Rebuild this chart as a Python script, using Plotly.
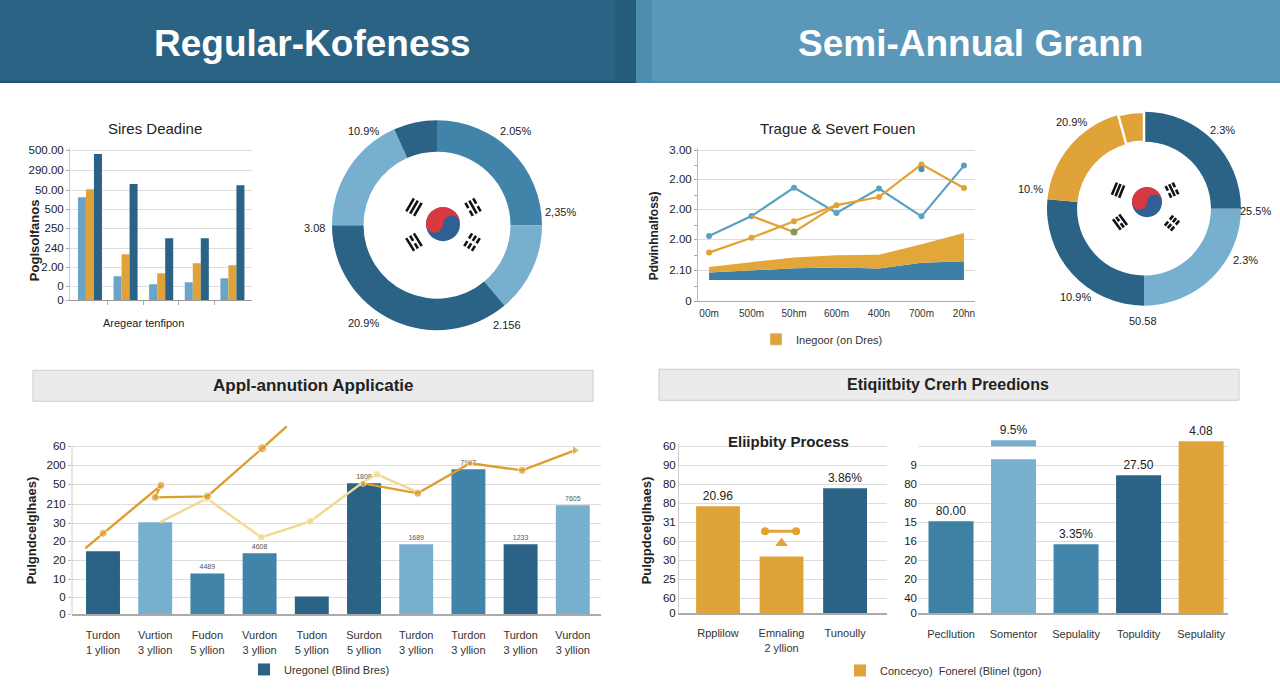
import math
import plotly.graph_objects as go

W, H = 1280, 698
# the photographed page shows a small top offset and slight vertical squeeze; compensate
Y_OFF, Y_SCALE = 4, 0.985

dark = "#2a6385"
mid = "#4184a9"
light = "#77afce"
gold = "#e0a33a"
pale = "#f1d98f"
grid_color = "#dddddd"
text_color = "#222222"

# ---------------- data ----------------
# top-left bars "Sires Deadine"
p1_groups = [0, 1, 2, 3, 4]
p1_light = [103, 24, 16, 18, 22]
p1_gold = [111, 46, 27, 37, 35]
p1_dark = [146, 116, 62, 62, 115]
p1_tickvals = [0, 14, 33, 52, 72, 91, 110, 130, 150]
p1_ticktext = ["0", "0", "2.00", "240", "250", "500", "50.00", "290.00", "500.00"]

# donut 1
d1_values = [90, 50, 130, 66, 24]
d1_colors = [mid, light, dark, light, dark]
d1_labels = ["10.9%", "2.05%", "2,35%", "3.08", "20.9%", "2.156"]

# line chart "Trague & Severt Fouen"
p3_x = [0, 1, 2, 3, 4, 5, 6]
p3_xlabels = ["00m", "500m", "50hm", "600m", "400n", "700m", "20hn"]
p3_blue = [2.16, 2.82, 3.76, 2.92, 3.73, 2.81, 4.49]
p3_gold = [1.61, 2.10, 2.65, 3.18, 3.45, 4.53, 3.75]
p3_gold2_x = [1, 2, 3]
p3_gold2 = [2.82, 2.29, 3.18]
p3_green_x = [2]
p3_green = [2.29]
p3_bdot_x = [5]
p3_bdot = [4.37]
p3_area_base = [0.70, 0.70, 0.70, 0.70, 0.70, 0.70, 0.70]
p3_area_blue = [0.95, 1.02, 1.09, 1.12, 1.08, 1.27, 1.32]
p3_area_gold = [1.13, 1.28, 1.45, 1.52, 1.54, 1.89, 2.26]
p3_tickvals = [0, 1.03, 2.05, 3.05, 4.04, 5.0]
p3_ticktext = ["0", "2.10", "2.00", "2.00", "2.00", "3.00"]

# donut 2
d2_values = [90, 90, 95.6, 69, 15.4]
d2_colors = [dark, light, dark, gold, gold]
d2_labels = ["2.3%", "25.5%", "2.3%", "50.58", "10.9%", "10.%", "20.9%"]

# bottom-left combo "Appl-annution Applicatie"
p5_x = [0, 1, 2, 3, 4, 5, 6, 7, 8, 9]
p5_vals = [63, 92, 41, 61, 18, 131, 70, 145, 70, 109]
p5_colors = [dark, light, mid, mid, dark, dark, light, mid, dark, light]
p5_text = ["", "", "4489", "4608", "", "1808", "1689", "7987", "1233", "7605"]
p5_xlabels = ["Turdon<br>1 yllion", "Vurtion<br>3 yllion", "Fudon<br>5 yllion",
              "Vurdon<br>3 yllion", "Tudon<br>5 yllion", "Surdon<br>5 yllion",
              "Turdon<br>3 yllion", "Turdon<br>3 yllion", "Turdon<br>3 yllion",
              "Vurdon<br>3 yllion"]
p5_tickvals = [0, 17, 35, 54, 73, 91, 110, 130, 149, 168]
p5_ticktext = ["0", "0", "10", "20", "20", "30", "210", "50", "200", "60"]
p5_line1_x = [-0.34, 0, 1.11, 1.0, 2.0, 3.05, 3.52]
p5_line1 = [66, 81, 129, 117, 118, 166, 188]
p5_pale_x = [1.09, 1.99, 3.03, 3.97, 4.98, 5.25, 6.03]
p5_pale = [92, 116, 77, 93, 132, 140, 122]
p5_line2_x = [4.98, 6.03, 7.03, 8.03, 9.04]
p5_line2 = [131, 121, 151, 144, 164]

# "Eliipbity Process"
p6_x = [0, 1, 2]
p6_vals = [107, 57, 125]
p6_colors = [gold, gold, dark]
p6_text = ["20.96", "", "3.86%"]
p6_xlabels = ["Rpplilow", "Emnaling<br>2 yllion", "Tunoully"]
p6_tickvals = [0, 15, 34, 53, 72, 91, 110, 129, 148, 167]
p6_ticktext = ["0", "60", "25", "30", "60", "31", "80", "80", "90", "60"]
p6_range_x = [0.74, 1.23]
p6_range_y = [82, 82]
p6_tri_x = [1.0]
p6_tri_y = [70]

# "Etiqiitbity Crerh Preedions" bars
p7_x = [0, 1, 2, 3, 4]
p7_vals = [92, 154, 69, 138, 172]
p7_colors = ["#3f80a5", light, "#4287ab", dark, gold]
p7_text = ["80.00", "", "3.35%", "27.50", "4.08"]
p7_xlabels = ["Pecllution", "Somentor", "Sepulality", "Topuldity", "Sepulality"]
p7_cap_x = [1]
p7_cap_base = [167]
p7_cap_h = [6]
p7_cap_text = ["9.5%"]
p7_tickvals = [0, 15, 34, 53, 72, 91, 110, 129, 148, 167]
p7_ticktext = ["0", "40", "20", "20", "16", "15", "80", "80", "9", ""]


# ---------------- helpers ----------------
def fy(y):
    return (y - Y_OFF) / Y_SCALE


def dom_x(a, b):
    return [a / W, b / W]


def dom_y(top, bottom):
    return [1 - fy(bottom) / H, 1 - fy(top) / H]


def px(x, y):
    return x / W, 1 - fy(y) / H


shapes = []
annotations = []


def rect(x0, y0, x1, y1, fill, line=None, layer="below"):
    a, b = px(x0, y1)
    c, d = px(x1, y0)
    shapes.append(dict(type="rect", xref="paper", yref="paper", x0=a, y0=b, x1=c, y1=d,
                       fillcolor=fill, line=dict(width=1 if line else 0, color=line or fill),
                       layer=layer))


def text(x, y, s, size=12, color=text_color, bold=False, angle=0, anchor="center"):
    a, b = px(x, y)
    annotations.append(dict(xref="paper", yref="paper", x=a, y=b, text=f"<b>{s}</b>" if bold else s,
                            showarrow=False, xanchor=anchor, yanchor="middle", textangle=angle,
                            font=dict(size=size, color=color)))


def flag(cx, cy, r, tri, L):
    # blue disc
    a, b = px(cx - r, cy + r)
    c, d = px(cx + r, cy - r)
    shapes.append(dict(type="circle", xref="paper", yref="paper", x0=a, y0=b, x1=c, y1=d,
                       fillcolor="#2f5f93", line=dict(width=0)))
    pts = []
    for i in range(41):
        t = math.pi - math.pi * i / 40
        pts.append((cx + r * math.cos(t), cy - r * math.sin(t)))
    for i in range(21):
        t = math.pi * i / 20
        pts.append((cx + r / 2 + r / 2 * math.cos(t), cy - r / 2 * math.sin(t)))
    for i in range(21):
        t = -math.pi * i / 20
        pts.append((cx - r / 2 + r / 2 * math.cos(t), cy - r / 2 * math.sin(t)))
    path = "M " + " L ".join("%.5f,%.5f" % px(x, y) for x, y in pts) + " Z"
    shapes.append(dict(type="path", xref="paper", yref="paper", path=path,
                       fillcolor="#d8383f", line=dict(width=0)))
    patterns = [(True, True, True), (False, True, False), (True, False, True), (False, False, False)]
    for (tx, ty), pat in zip(tri, patterns):
        ddx, ddy = cx - tx, cy - ty
        n = math.hypot(ddx, ddy)
        ux, uy = ddx / n, ddy / n
        vx, vy = -uy, ux
        s = L * 0.3
        for k, solid in zip((-1, 0, 1), pat):
            bx, by = tx + k * s * ux, ty + k * s * uy
            segs = [(-L / 2, L / 2)] if solid else [(-L / 2, -L * 0.1), (L * 0.1, L / 2)]
            for p0, p1 in segs:
                x0, y0 = px(bx + p0 * vx, by + p0 * vy)
                x1, y1 = px(bx + p1 * vx, by + p1 * vy)
                shapes.append(dict(type="line", xref="paper", yref="paper", x0=x0, y0=y0,
                                   x1=x1, y1=y1, line=dict(color="#111111", width=2.6)))


fig = go.Figure()

# ---------------- panel 1: grouped bars ----------------
bw = 0.225
for vals, col, off in ((p1_light, "#6aa4c6", -1.5 * bw), (p1_gold, gold, -0.5 * bw), (p1_dark, dark, 0.5 * bw)):
    fig.add_trace(go.Bar(x=p1_groups, y=vals, width=bw, offset=off, marker=dict(color=col, line=dict(width=0)),
                         xaxis="x", yaxis="y", showlegend=False, hoverinfo="skip"))

# ---------------- donut 1 ----------------
fig.add_trace(go.Pie(values=d1_values, marker=dict(colors=d1_colors, line=dict(width=0)), hole=0.70,
                     sort=False, direction="clockwise", rotation=0, textinfo="none",
                     domain=dict(x=dom_x(332, 542), y=dom_y(120, 330)), showlegend=False, hoverinfo="skip"))

# ---------------- panel 3: lines + stacked area ----------------
fig.add_trace(go.Scatter(x=p3_x, y=p3_area_base, mode="lines", line=dict(width=0), xaxis="x2", yaxis="y2",
                         showlegend=False, hoverinfo="skip"))
fig.add_trace(go.Scatter(x=p3_x, y=p3_area_blue, mode="lines", line=dict(width=0), fill="tonexty",
                         fillcolor="#3d7fa6", xaxis="x2", yaxis="y2", showlegend=False, hoverinfo="skip"))
fig.add_trace(go.Scatter(x=p3_x, y=p3_area_gold, mode="lines", line=dict(width=0), fill="tonexty",
                         fillcolor="#e2a63a", xaxis="x2", yaxis="y2", showlegend=False, hoverinfo="skip"))
fig.add_trace(go.Scatter(x=p3_x, y=p3_blue, mode="lines+markers", line=dict(color="#5aa0c0", width=2.2),
                         marker=dict(size=6, color="#5aa0c0"), xaxis="x2", yaxis="y2", showlegend=False))
fig.add_trace(go.Scatter(x=p3_x, y=p3_gold, mode="lines+markers", line=dict(color="#e3a232", width=2.2),
                         marker=dict(size=6, color="#e3a232"), xaxis="x2", yaxis="y2", showlegend=False))
fig.add_trace(go.Scatter(x=p3_gold2_x, y=p3_gold2, mode="lines", line=dict(color="#e3a232", width=2.2),
                         xaxis="x2", yaxis="y2", showlegend=False))
fig.add_trace(go.Scatter(x=p3_green_x, y=p3_green, mode="markers", marker=dict(size=7, color="#7f9a5e"),
                         xaxis="x2", yaxis="y2", showlegend=False))
fig.add_trace(go.Scatter(x=p3_bdot_x, y=p3_bdot, mode="markers", marker=dict(size=6, color="#4d8fb3"),
                         xaxis="x2", yaxis="y2", showlegend=False))
fig.add_trace(go.Bar(x=[None], y=[None], marker_color=gold, name="Inegoor (on Dres)", legend="legend2",
                     xaxis="x2", yaxis="y2"))

# ---------------- donut 2 ----------------
fig.add_trace(go.Pie(values=d2_values, marker=dict(colors=d2_colors, line=dict(color="white", width=[0, 0, 0, 0, 2.5])),
                     hole=0.69, sort=False, direction="clockwise", rotation=0, textinfo="none",
                     domain=dict(x=dom_x(1047, 1241), y=dom_y(111, 306)), showlegend=False, hoverinfo="skip"))

# ---------------- panel 5: bars + lines ----------------
fig.add_trace(go.Bar(x=p5_x, y=p5_vals, width=0.65, offset=-0.325, marker=dict(color=p5_colors, line=dict(width=0)),
                     text=p5_text, textposition="outside", textfont=dict(size=7, color="#555555"),
                     cliponaxis=False, name="Uregonel (Blind Bres)", legend="legend", xaxis="x3", yaxis="y3"))
fig.add_trace(go.Scatter(x=p5_pale_x, y=p5_pale, mode="lines+markers", line=dict(color=pale, width=2.4),
                         marker=dict(size=[0, 8, 8, 8, 0, 8, 0], color=pale), xaxis="x3", yaxis="y3",
                         showlegend=False))
fig.add_trace(go.Scatter(x=p5_line1_x, y=p5_line1, mode="lines+markers", line=dict(color="#dc9e2c", width=2.4),
                         marker=dict(size=[0, 8, 8, 8, 8, 9, 0], color="#dc9e2c"), xaxis="x3", yaxis="y3",
                         showlegend=False))
fig.add_trace(go.Scatter(x=p5_line2_x, y=p5_line2, mode="lines+markers", line=dict(color="#dc9e2c", width=2.4),
                         marker=dict(size=[6, 8, 6, 8, 9], color="#dc9e2c",
                                     symbol=["circle", "circle", "circle", "circle", "triangle-right"]),
                         xaxis="x3", yaxis="y3", showlegend=False))

# ---------------- panel 6 ----------------
fig.add_trace(go.Bar(x=p6_x, y=p6_vals, width=0.69, offset=-0.345, marker=dict(color=p6_colors, line=dict(width=0)),
                     text=p6_text, textposition="outside", textfont=dict(size=12, color=text_color),
                     cliponaxis=False, name="Concecyo)  Fonerel (Blinel (tgon)", legend="legend3",
                     xaxis="x4", yaxis="y4"))
fig.add_trace(go.Scatter(x=p6_range_x, y=p6_range_y, mode="lines+markers", line=dict(color="#e3a232", width=3),
                         marker=dict(size=8, color="#e3a232"), xaxis="x4", yaxis="y4", showlegend=False))
fig.add_trace(go.Scatter(x=p6_tri_x, y=p6_tri_y, mode="markers", marker=dict(size=11, color="#e3a232", symbol="triangle-up"),
                         xaxis="x4", yaxis="y4", showlegend=False))

# ---------------- panel 7 ----------------
fig.add_trace(go.Bar(x=p7_x, y=p7_vals, width=0.72, offset=-0.36, marker=dict(color=p7_colors, line=dict(width=0)),
                     text=p7_text, textposition="outside", textfont=dict(size=12, color=text_color),
                     cliponaxis=False, xaxis="x5", yaxis="y5", showlegend=False))
fig.add_trace(go.Bar(x=p7_cap_x, y=p7_cap_h, base=p7_cap_base, width=0.72, offset=-0.36,
                     marker=dict(color=light, line=dict(width=0)), text=p7_cap_text, textposition="outside",
                     textfont=dict(size=12, color=text_color), cliponaxis=False,
                     xaxis="x5", yaxis="y5", showlegend=False))

# ---------------- decorations ----------------
rect(0, -10, 636, 82, "#2a6383")
rect(615, -10, 636, 82, "#255b7b")
rect(636, -10, 1280, 82, "#5b97b9")
rect(636, -10, 652, 82, "#4f8db0")
rect(0, 81, 636, 83, "#1d5474")
rect(636, 81, 1280, 83, "#4d8cb0")
rect(33, 370, 593, 401, "#ebebeb", "#cccccc")
rect(659, 369, 1239, 400, "#ebebeb", "#cccccc")

# left axis line of the combo chart (only up to its top gridline)
shapes.append(dict(type="line", xref="x3 domain", yref="y3", x0=0, x1=0, y0=0, y1=168,
                   line=dict(color="#cccccc", width=1)))

flag(443, 224, 17, [(414, 207), (473, 207), (414, 242), (472, 242)], 15)
flag(1147, 202, 15, [(1118, 190), (1172, 190), (1120, 222), (1172, 223)], 13)

text(312, 43, "Regular-Kofeness", 37, "white", True)
text(970, 43, "Semi-Annual Grann", 37, "white", True)
text(155, 128, "Sires Deadine", 15)
text(837, 128, "Trague & Severt Fouen", 15)
text(313, 385, "Appl-annution Applicatie", 17, bold=True)
text(948, 384, "Etiqiitbity Crerh Preedions", 16, bold=True)
text(788, 441, "Eliipbity Process", 15, bold=True)
text(143, 323, "Aregear tenfipon", 11)
text(34, 240, "Poglsolfanos", 13, bold=True, angle=-90)
text(654, 236, "Pdwinhnalfoss)", 12, bold=True, angle=-90)
text(31, 530, "Pulgndcelglhaes)", 13, bold=True, angle=-90)
text(646, 530, "Pulgpdcelglhaes)", 13, bold=True, angle=-90)

for s, (x, y) in zip(d1_labels, [(363, 131), (515, 131), (560, 212), (314, 228), (363, 323), (507, 325)]):
    text(x, y, s, 11)
for s, (x, y) in zip(d2_labels, [(1222, 130), (1255, 211), (1245, 260), (1143, 321), (1075, 297), (1030, 189), (1071, 122)]):
    text(x, y, s, 11)

# ---------------- axes ----------------
yfont = dict(size=11.5, color=text_color)
xfont = dict(size=11, color="#333333")
fig.update_layout(
    autosize=True, margin=dict(l=0, r=0, t=0, b=0, pad=0),
    paper_bgcolor="white", plot_bgcolor="rgba(0,0,0,0)",
    font=dict(family="Liberation Sans, Arial, sans-serif", color=text_color),
    barmode="overlay",
    shapes=shapes, annotations=annotations,
    xaxis=dict(domain=dom_x(70, 252), range=[-0.56, 4.55], anchor="y", showticklabels=False,
               tickvals=[0.5, 1.5, 2.5, 3.5], ticks="outside", ticklen=4, tickcolor="#aaaaaa",
               showline=True, linecolor="#999999", showgrid=False, zeroline=False),
    yaxis=dict(domain=dom_y(148, 300), range=[0, 152], anchor="x", tickvals=p1_tickvals, ticktext=p1_ticktext,
               tickfont=yfont, showgrid=True, gridcolor=grid_color, ticks="outside", ticklen=3,
               tickcolor="#aaaaaa", showline=True, linecolor="#cccccc", zeroline=False),
    xaxis2=dict(domain=dom_x(698, 975), range=[-0.26, 6.26], anchor="y2", tickvals=p3_x, ticktext=p3_xlabels,
                tickfont=dict(size=10, color="#333333"), showline=True, linecolor="#aaaaaa",
                ticklabelstandoff=3, showgrid=False, zeroline=False),
    yaxis2=dict(domain=dom_y(148, 301), range=[0, 5.07], anchor="x2", tickvals=p3_tickvals, ticktext=p3_ticktext,
                tickfont=yfont, showgrid=True, gridcolor=grid_color, ticks="outside", ticklen=3,
                tickcolor="#aaaaaa", showline=True, linecolor="#bbbbbb", zeroline=False,
                minor=dict(tickmode="array", tickvals=[0.5, 1.5, 2.5, 3.5, 4.5], ticklen=3,
                           tickcolor="#aaaaaa", ticks="outside", showgrid=False)),
    xaxis3=dict(domain=dom_x(72, 601), range=[-0.594, 9.54], anchor="y3", tickvals=p5_x, ticktext=p5_xlabels,
                tickfont=xfont, showline=True, linecolor="#aaaaaa", linewidth=1.5,
                ticklabelstandoff=10, showgrid=False, zeroline=False),
    yaxis3=dict(domain=dom_y(420, 614), range=[0, 194], anchor="x3", tickvals=p5_tickvals, ticktext=p5_ticktext,
                tickfont=yfont, showgrid=True, gridcolor=grid_color, ticks="outside", ticklen=3,
                tickcolor="#bbbbbb", showline=False, zeroline=False),
    xaxis4=dict(domain=dom_x(679, 887), range=[-0.614, 2.66], anchor="y4", tickvals=p6_x, ticktext=p6_xlabels,
                tickfont=xfont, showline=True, linecolor="#aaaaaa", linewidth=1.5,
                ticklabelstandoff=9, showgrid=False, zeroline=False),
    yaxis4=dict(domain=dom_y(444, 613), range=[0, 169], anchor="x4", tickvals=p6_tickvals, ticktext=p6_ticktext,
                tickfont=yfont, showgrid=True, gridcolor=grid_color, showline=True, linecolor="#cccccc",
                zeroline=False),
    xaxis5=dict(domain=dom_x(918, 1228), range=[-0.528, 4.43], anchor="y5", tickvals=p7_x, ticktext=p7_xlabels,
                tickfont=xfont, showline=True, linecolor="#aaaaaa", linewidth=1.5,
                ticklabelstandoff=10, showgrid=False, zeroline=False),
    yaxis5=dict(domain=dom_y(426, 613), range=[0, 187], anchor="x5", tickvals=p7_tickvals, ticktext=p7_ticktext,
                tickfont=yfont, showgrid=True, gridcolor=grid_color, showline=False, zeroline=False),
    legend=dict(x=244 / W, y=px(0, 669)[1], xanchor="left", yanchor="middle", bgcolor="rgba(0,0,0,0)",
                font=dict(size=11, color="#333333")),
    legend2=dict(x=756 / W, y=px(0, 339)[1], xanchor="left", yanchor="middle", bgcolor="rgba(0,0,0,0)",
                 font=dict(size=11, color="#333333")),
    legend3=dict(x=840 / W, y=px(0, 670)[1], xanchor="left", yanchor="middle", bgcolor="rgba(0,0,0,0)",
                 font=dict(size=11, color="#333333")),
)

# make the figure fill the browser window exactly
fit = ("document.documentElement.style.overflow='hidden';"
       "document.body.style.margin='0';document.body.style.overflow='hidden';"
       "var gd=document.getElementById('{plot_id}');"
       "gd.style.position='fixed';gd.style.left='0px';gd.style.top='0px';"
       "gd.style.width='100vw';gd.style.height='100vh';"
       "Plotly.relayout(gd,{width:window.innerWidth,height:window.innerHeight});")
fig.write_html("out.html", post_script=fit, config={"displayModeBar": False},
               default_width="100%", default_height="100%")
